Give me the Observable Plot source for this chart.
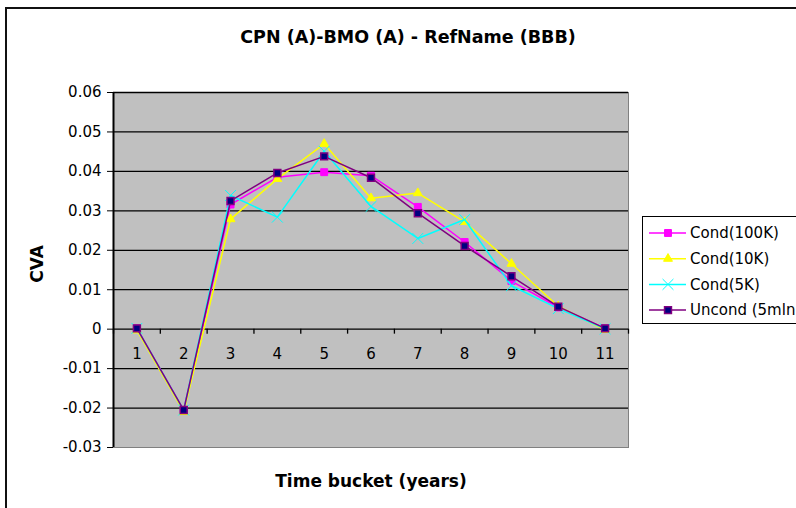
<!DOCTYPE html>
<html><head><meta charset="utf-8">
<script src="https://cdn.jsdelivr.net/npm/d3@7"></script>
<script src="https://cdn.jsdelivr.net/npm/@observablehq/plot@0.6"></script>
<style>
html,body{margin:0;padding:0;background:#fff;}
#wrap{position:relative;width:796px;height:508px;overflow:hidden;font-family:"DejaVu Sans",sans-serif;}
#frame{position:absolute;left:5px;top:7px;width:900px;height:600px;border-left:2px solid #111;border-top:2px solid #111;}
#chart{position:absolute;left:0;top:0;}
#legend{position:absolute;left:642px;top:216px;width:220px;height:106px;border:1px solid #000;background:#fff;}
</style></head><body>
<div id="wrap"><div id="frame"></div><div id="chart"></div><div id="legend"></div></div>
<script>
const title = "CPN (A)-BMO (A) - RefName (BBB)";
const xTitle = "Time bucket (years)";
const yTitle = "CVA";
const buckets = [1, 2, 3, 4, 5, 6, 7, 8, 9, 10, 11];
const yTicks = [-0.03, -0.02, -0.01, 0, 0.01, 0.02, 0.03, 0.04, 0.05, 0.06];
const seriesNames = ["Cond(100K)", "Cond(10K)", "Cond(5K)", "Uncond (5mln)"];
const cond100K = [0.0002, -0.0205, 0.0316, 0.0385, 0.0398, 0.0389, 0.0310, 0.0221, 0.0122, 0.0055, 0.0002];
const cond10K  = [-0.0003, -0.0210, 0.0279, 0.0381, 0.0470, 0.0332, 0.0345, 0.0272, 0.0166, 0.0058, -0.0002];
const cond5K   = [0.0002, -0.0205, 0.0339, 0.0284, 0.0451, 0.0311, 0.0230, 0.0278, 0.0110, 0.0052, 0.0001];
const uncond   = [0.0002, -0.0205, 0.0325, 0.0396, 0.0438, 0.0384, 0.0294, 0.0211, 0.0134, 0.0057, 0.0002];

const values = [cond100K, cond10K, cond5K, uncond];
const styles = [
  {line: "#ff00ff", symbol: "square", r: 3.9, fill: "#ff00ff", stroke: "#ff00ff", sw: 1},
  {line: "#ffff00", symbol: "triangle", r: 3.3, fill: "#ffff00", stroke: "#ffff00", sw: 1},
  {line: "#00ffff", symbol: "times", r: 5, fill: "none", stroke: "#00ffff", sw: 1},
  {line: "#800080", symbol: "square", r: 3.9, fill: "#000080", stroke: "#800080", sw: 1.5}
];
const data = seriesNames.flatMap((s, k) => buckets.map((b, i) => ({series: s, bucket: b, value: values[k][i]})));
const xBounds = [buckets[0] - 0.5, ...buckets.map(b => b + 0.5)];
const font = '"DejaVu Sans", sans-serif';

const seriesMarks = seriesNames.flatMap((s, k) => {
  const st = styles[k];
  const d = data.filter(r => r.series === s);
  return [
    Plot.line(d, {x: "bucket", y: "value", stroke: st.line, strokeWidth: 1.5}),
    Plot.dot(d, {x: "bucket", y: "value", symbol: st.symbol, r: st.r, fill: st.fill, stroke: st.stroke, strokeWidth: st.sw})
  ];
});

const chart = Plot.plot({
  width: 796, height: 508,
  marginLeft: 113, marginRight: 168, marginTop: 92, marginBottom: 61,
  style: {fontFamily: font, fontSize: "15px", background: "transparent", overflow: "visible", color: "#000"},
  x: {domain: [xBounds[0], xBounds[xBounds.length - 1]], axis: null},
  y: {domain: [yTicks[0], yTicks[yTicks.length - 1]], ticks: yTicks, tickFormat: d => d === 0 ? "0" : d.toFixed(2), tickSize: 6, tickPadding: 6, label: null},
  marks: [
    Plot.frame({fill: "#c0c0c0", stroke: "#808080"}),
    Plot.ruleY(yTicks.slice(1), {stroke: "#000", strokeWidth: 1.3}),
    Plot.ruleX([xBounds[0]], {stroke: "#000", strokeWidth: 2}),
    Plot.ruleX(xBounds, {x: d => d, y1: 0, y2: 0, insetBottom: -5, stroke: "#000", strokeWidth: 1.3}),
    Plot.text(buckets, {x: d => d, y: 0, dy: 25, text: d => String(d), fontSize: 15, fill: "#000"}),
    ...seriesMarks,
    Plot.text([title], {frameAnchor: "top", lineAnchor: "middle", textAnchor: "middle", dx: 37, dy: -55, text: d => d, fontWeight: "bold", fontSize: 17.5, fill: "#000"}),
    Plot.text([xTitle], {frameAnchor: "bottom", lineAnchor: "middle", textAnchor: "middle", dy: 34, text: d => d, fontWeight: "bold", fontSize: 17, fill: "#000"}),
    Plot.text([yTitle], {frameAnchor: "left", lineAnchor: "middle", textAnchor: "middle", dx: -76, dy: -6, rotate: -90, text: d => d, fontWeight: "bold", fontSize: 17, fill: "#000"})
  ]
});
document.getElementById("chart").appendChild(chart);

// legend
const lg = d3.select("#legend").append("svg").attr("width", 220).attr("height", 106)
  .style("font-family", font).style("font-size", "15px");
seriesNames.forEach((s, k) => {
  const st = styles[k];
  const cy = 16 + 25.7 * k;
  const g = lg.append("g").attr("transform", `translate(0,${cy})`);
  g.append("line").attr("x1", 6).attr("x2", 43).attr("y1", 0).attr("y2", 0).attr("stroke", st.line).attr("stroke-width", 1.5);
  const symType = st.symbol === "square" ? d3.symbolSquare : st.symbol === "triangle" ? d3.symbolTriangle : d3.symbolTimes;
  g.append("path").attr("transform", "translate(25,0)")
    .attr("d", d3.symbol(symType, Math.PI * st.r * st.r)())
    .attr("fill", st.fill).attr("stroke", st.stroke).attr("stroke-width", st.sw);
  g.append("text").attr("x", 47).attr("y", 0).attr("dy", "0.35em").attr("fill", "#000").text(s);
});
</script>
</body></html>
